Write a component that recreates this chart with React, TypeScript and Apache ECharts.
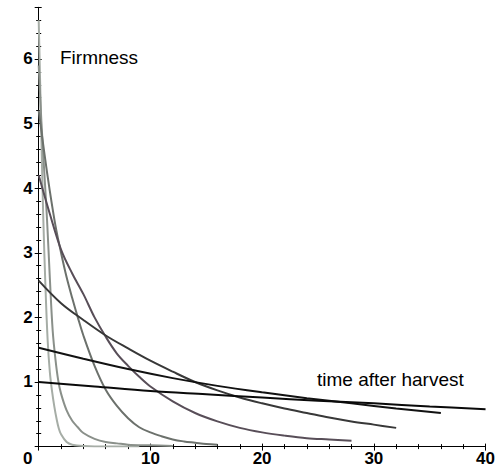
import React, { useEffect, useRef } from "react";
import * as echarts from "echarts";

// time after harvest (x) and firmness (y) samples
const c1T = [0, 5, 10, 15, 20, 25, 30, 35, 40];
const c1F = [1.0, 0.93, 0.86, 0.81, 0.76, 0.71, 0.67, 0.62, 0.58];

const c2T = [0, 4, 8, 12, 16, 20, 24, 28, 32, 36];
const c2F = [1.53, 1.36, 1.2, 1.06, 0.94, 0.84, 0.75, 0.67, 0.59, 0.52];

const c3T = [0, 2, 4, 6, 8, 10, 12, 14, 16, 18, 20, 22, 24, 26, 28, 30, 32];
const c3F = [2.57, 2.22, 1.96, 1.72, 1.52, 1.33, 1.16, 1.0, 0.87, 0.76, 0.67, 0.59, 0.52, 0.45, 0.39, 0.34, 0.29];

const pT = [0, 1, 2, 3, 4, 5, 6, 7, 8, 9, 10, 12, 14, 16, 18, 20, 22, 24, 26, 28];
const pF = [4.2, 3.6, 3.05, 2.68, 2.36, 2.0, 1.7, 1.44, 1.25, 1.08, 0.93, 0.7, 0.52, 0.39, 0.29, 0.22, 0.17, 0.13, 0.11, 0.09];

const l3T = [0, 0.5, 1, 1.5, 2, 2.5, 3, 3.5, 4, 5, 6, 7, 8, 9, 10, 11, 12, 13, 14, 15, 16];
const l3F = [5.2, 4.55, 3.95, 3.42, 3.0, 2.62, 2.3, 2.0, 1.72, 1.25, 0.88, 0.63, 0.44, 0.3, 0.22, 0.16, 0.11, 0.08, 0.06, 0.04, 0.03];

const l2T = [0, 0.25, 0.5, 0.75, 1, 1.25, 1.5, 1.75, 2, 2.5, 3, 3.5, 4, 5, 6, 7, 8, 10, 12];
const l2F = [5.9, 5.0, 4.25, 3.5, 2.6, 1.8, 1.35, 1.02, 0.82, 0.56, 0.4, 0.3, 0.21, 0.12, 0.07, 0.05, 0.03, 0.02, 0.01];

const l1T = [0, 0.2, 0.4, 0.6, 0.8, 1, 1.2, 1.4, 1.6, 1.8, 2, 2.5, 3, 4, 6, 9];
const l1F = [6.6, 5.1, 3.6, 2.5, 1.65, 1.15, 0.85, 0.62, 0.43, 0.28, 0.19, 0.07, 0.03, 0.01, 0.0, 0.0];

const xTickLabels = ["10", "20", "30", "40"];
const yTickLabels = ["1", "2", "3", "4", "5", "6"];

const curves = [
  { t: l1T, f: l1F, color: "#a6ada6" },
  { t: l2T, f: l2F, color: "#8a908a" },
  { t: l3T, f: l3F, color: "#6c716c" },
  { t: pT, f: pF, color: "#584e58" },
  { t: c3T, f: c3F, color: "#383838" },
  { t: c2T, f: c2F, color: "#121212" },
  { t: c1T, f: c1F, color: "#0a0a0a" },
];

const FONT = "'Liberation Sans', Arial, sans-serif";

export default function App() {
  const ref = useRef<HTMLDivElement>(null);
  useEffect(() => {
    if (!ref.current) return;
    const chart = echarts.init(ref.current, undefined, { renderer: "svg" });
    const labelStyle = { fontSize: 17, fontWeight: "bold" as const, color: "#000", fontFamily: FONT };
    const lineStyle = { color: "#000", width: 1 };
    chart.setOption({
      animation: false,
      backgroundColor: "#fff",
      grid: { left: 38.7, right: 12.3, top: 7.3, bottom: 23.4 },
      xAxis: [
        {
          type: "value", min: 0, max: 40, interval: 10, position: "bottom",
          axisLine: { show: true, onZero: false, lineStyle },
          axisTick: { show: true, length: 4, lineStyle },
          minorTick: { show: true, splitNumber: 5, length: 2.5, lineStyle },
          splitLine: { show: false },
          axisLabel: {
            ...labelStyle, margin: 3,
            formatter: (v: number) => (xTickLabels.includes(String(v)) ? String(v) : ""),
          },
        },
        {
          type: "value", min: 0, max: 40, interval: 10, position: "bottom",
          axisLine: { show: false },
          axisTick: { show: true, inside: true, length: 3, lineStyle },
          minorTick: { show: true, splitNumber: 5, length: 2.5, lineStyle },
          splitLine: { show: false },
          axisLabel: { show: false },
        },
      ],
      yAxis: [
        {
          type: "value", min: 0, max: 6.8, interval: 1, position: "left",
          axisLine: { show: true, onZero: false, lineStyle },
          axisTick: { show: true, length: 4, lineStyle },
          minorTick: { show: true, splitNumber: 5, length: 2.5, lineStyle },
          splitLine: { show: false },
          axisLabel: {
            ...labelStyle, margin: 6,
            formatter: (v: number) => (yTickLabels.includes(String(v)) ? String(v) : ""),
          },
        },
        {
          type: "value", min: 0, max: 6.8, interval: 1, position: "left",
          axisLine: { show: false },
          axisTick: { show: true, inside: true, length: 3, lineStyle },
          minorTick: { show: true, splitNumber: 5, length: 2.5, lineStyle },
          splitLine: { show: false },
          axisLabel: { show: false },
        },
      ],
      series: curves.map((c) => ({
        type: "line",
        xAxisIndex: 0,
        yAxisIndex: 0,
        data: c.t.map((t, i) => [t, c.f[i]]),
        showSymbol: false,
        smooth: 0.35,
        lineStyle: { color: c.color, width: 2 },
        itemStyle: { color: c.color },
      })),
      graphic: [
        {
          type: "text", left: 60, top: 48,
          style: { text: "Firmness", fontSize: 19, fontFamily: FONT, fill: "#000" },
        },
        {
          type: "text", left: 317, top: 370,
          style: { text: "time after harvest", fontSize: 19, fontFamily: FONT, fill: "#000" },
        },
        {
          type: "text", left: 23, top: 450,
          style: { text: "0", fontSize: 17, fontWeight: "bold", fontFamily: FONT, fill: "#000" },
        },
      ],
    });
    return () => chart.dispose();
  }, []);
  return (
    <div
      ref={ref}
      style={{ position: "fixed", left: 0, top: 0, width: 498, height: 470, background: "#fff" }}
    />
  );
}
